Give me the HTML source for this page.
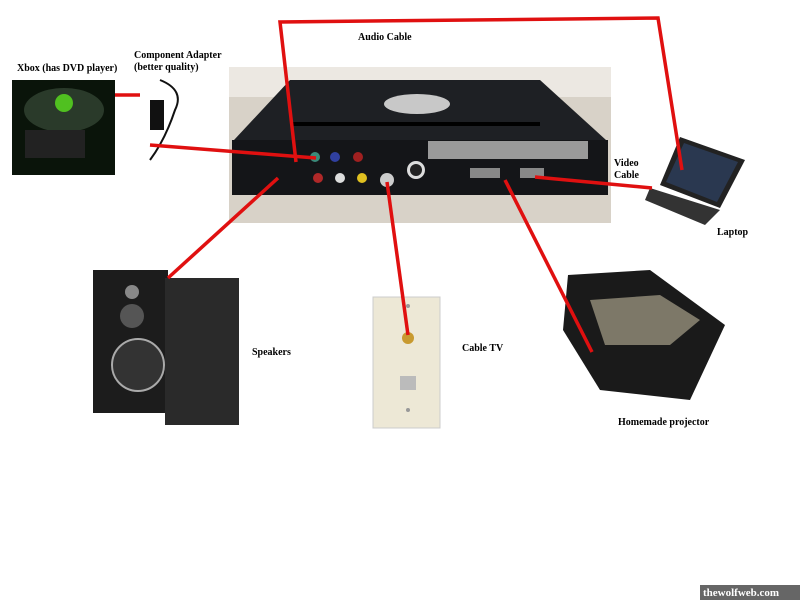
<!DOCTYPE html>
<html><head><style>
body{margin:0;width:800px;height:600px;background:#fff;overflow:hidden;position:relative;font-family:"Liberation Serif",serif}
.l{position:absolute;font-size:10px;font-weight:bold;color:#000;line-height:12px}
</style></head><body>
<svg width="800" height="600" style="position:absolute;left:0;top:0">
<!-- central device photo -->
<rect x="229" y="67" width="382" height="156" fill="#d8d2c8"/>
<rect x="229" y="67" width="382" height="30" fill="#ece8e2"/>
<polygon points="290,80 540,80 606,140 234,140" fill="#1e2024"/>
<ellipse cx="417" cy="104" rx="33" ry="10" fill="#c8c8c8"/>
<rect x="290" y="122" width="250" height="4" fill="#000"/>
<rect x="232" y="140" width="376" height="55" fill="#141518"/>
<rect x="428" y="141" width="160" height="18" fill="#9a9a9a"/>
<circle cx="315" cy="157" r="5" fill="#3a8a7a"/><circle cx="335" cy="157" r="5" fill="#3040a0"/><circle cx="358" cy="157" r="5" fill="#a02020"/>
<circle cx="318" cy="178" r="5" fill="#b02828"/><circle cx="340" cy="178" r="5" fill="#ddd"/><circle cx="362" cy="178" r="5" fill="#e0c020"/>
<circle cx="387" cy="180" r="7" fill="#ccc"/><circle cx="416" cy="170" r="9" fill="#ddd"/><circle cx="416" cy="170" r="6" fill="#222"/>
<rect x="470" y="168" width="30" height="10" fill="#888"/><rect x="520" y="168" width="24" height="10" fill="#888"/>
<!-- xbox -->
<rect x="12" y="80" width="103" height="95" fill="#0a140a"/>
<ellipse cx="64" cy="110" rx="40" ry="22" fill="#2a3a2a"/>
<circle cx="64" cy="103" r="9" fill="#50c020"/>
<rect x="25" y="130" width="60" height="28" fill="#222"/>
<!-- adapter -->
<rect x="133" y="78" width="55" height="92" fill="#fff"/>
<path d="M160 80 Q185 90 175 110 Q165 140 150 160" stroke="#111" stroke-width="2" fill="none"/>
<rect x="150" y="100" width="14" height="30" fill="#111"/>
<!-- laptop -->
<polygon points="680,137 745,160 720,208 660,185" fill="#222"/>
<polygon points="684,143 738,162 717,202 666,182" fill="#2a3850"/>
<polygon points="650,188 720,210 705,225 645,200" fill="#333"/>
<!-- speakers -->
<rect x="93" y="270" width="75" height="143" fill="#1c1c1c"/>
<circle cx="132" cy="292" r="7" fill="#888"/>
<circle cx="132" cy="316" r="12" fill="#555"/>
<circle cx="138" cy="365" r="26" fill="#333" stroke="#aaa" stroke-width="2"/>
<rect x="165" y="278" width="74" height="147" fill="#2a2a2a"/>
<!-- wall plate -->
<rect x="373" y="297" width="67" height="131" fill="#ede8d6" stroke="#ccc"/>
<circle cx="408" cy="338" r="6" fill="#c89a30"/>
<rect x="400" y="376" width="16" height="14" fill="#bbb"/>
<circle cx="408" cy="306" r="2" fill="#999"/><circle cx="408" cy="410" r="2" fill="#999"/>
<!-- projector -->
<polygon points="568,275 650,270 725,325 690,400 600,390 563,330" fill="#1a1a1a"/>
<polygon points="590,300 660,295 700,320 670,345 605,345" fill="#7d7868"/>
<!-- red cables -->
<g stroke="#e01010" stroke-width="3.5" fill="none">
<polyline points="296,162 280,22 658,18 682,170"/>
<line x1="115" y1="95" x2="140" y2="95"/>
<line x1="150" y1="145" x2="316" y2="158"/>
<line x1="535" y1="177" x2="652" y2="188"/>
<line x1="278" y1="178" x2="168" y2="278"/>
<line x1="387" y1="182" x2="408" y2="335"/>
<line x1="505" y1="180" x2="592" y2="352"/>
</g>
<rect x="700" y="585" width="100" height="15" fill="#666"/>
</svg>
<div class="l" style="left:358px;top:32px">Audio Cable</div>
<div class="l" style="left:17px;top:63px">Xbox (has DVD player)</div>
<div class="l" style="left:134px;top:50px">Component Adapter<br>(better quality)</div>
<div class="l" style="left:614px;top:158px">Video<br>Cable</div>
<div class="l" style="left:717px;top:227px">Laptop</div>
<div class="l" style="left:252px;top:347px">Speakers</div>
<div class="l" style="left:462px;top:343px">Cable TV</div>
<div class="l" style="left:618px;top:417px">Homemade projector</div>
<div class="l" style="left:703px;top:587px;color:#fff;font-size:11px">thewolfweb.com</div>
</body></html>
